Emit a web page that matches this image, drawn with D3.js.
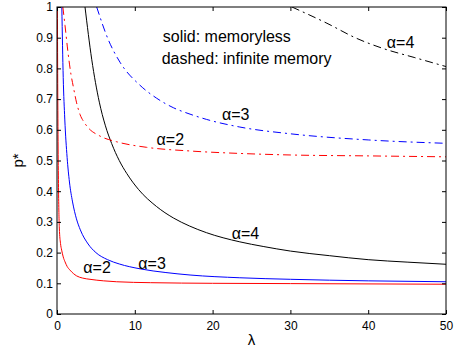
<!DOCTYPE html>
<html>
<head>
<meta charset="utf-8">
<script src="https://cdn.jsdelivr.net/npm/d3@7"></script>
<style>
  body { margin: 0; background: #fff; }
  text { font-family: "Liberation Sans", Arial, sans-serif; }
</style>
</head>
<body>
<div id="container"></div>
<script>
// [lambda, p*]
var solid2 = [[0.05,1.0],[0.1,0.72],[0.15,0.52],[0.2,0.4],[0.3,0.28],[0.45,0.23],[0.6,0.208],[0.8,0.186],[1.03,0.17],[1.3,0.155],[1.67,0.143],[2.1,0.132],[2.53,0.124],[3.3,0.117],[4.24,0.113],[6,0.108],[7.67,0.105],[12,0.102],[20,0.1],[30,0.099],[50,0.097]];
var solid3 = [[0.62,1.0],[0.8,0.77],[1.0,0.635],[1.3,0.51],[1.6,0.43],[2.0,0.365],[2.5,0.31],[3.0,0.274],[4.0,0.228],[5.0,0.2],[6.5,0.177],[8.0,0.163],[10.7,0.147],[14,0.135],[17.1,0.127],[23.5,0.118],[30,0.113],[40,0.108],[50,0.105]];
var solid4 = [[3.6,1.0],[4.46,0.83],[5.44,0.69],[6.2,0.615],[7.03,0.555],[8.0,0.5],[8.96,0.458],[10.5,0.405],[12.8,0.35],[14.95,0.313],[17,0.287],[19.2,0.265],[23.5,0.235],[26.5,0.22],[30,0.205],[35,0.19],[40,0.177],[45,0.169],[50,0.162]];
var dashed2 = [[0.75,1.0],[1.03,0.94],[1.4,0.855],[1.8,0.78],[2.1,0.74],[2.5,0.69],[2.96,0.65],[3.5,0.624],[4.0,0.607],[5.5,0.58],[7.67,0.561],[11.5,0.543],[17.1,0.531],[23.5,0.523],[30,0.518],[40,0.515],[50,0.512]];
var dashed3 = [[5.1,1.0],[6.6,0.893],[8.1,0.82],[10.67,0.745],[12.8,0.703],[14.95,0.672],[17.1,0.651],[19.2,0.634],[23.5,0.609],[30,0.587],[40,0.567],[50,0.556]];
var dashed4 = [[30.2,1.0],[34.7,0.947],[38.5,0.898],[41.9,0.865],[46,0.835],[50,0.806]];

var xTicks = [0, 10, 20, 30, 40, 50];
var yTicks = [0, 0.1, 0.2, 0.3, 0.4, 0.5, 0.6, 0.7, 0.8, 0.9, 1];

var width = 455,
    height = 350,
    margin = {top: 7, right: 9, bottom: 36, left: 57};
var w = width - margin.left - margin.right,
    h = height - margin.top - margin.bottom;

var svg = d3.select("#container")
  .append("svg")
  .attr("width", width)
  .attr("height", height);

var g = svg.append("g")
  .attr("transform", "translate(" + margin.left + "," + margin.top + ")");

var x = d3.scaleLinear().domain([0, 50]).range([0, w]);
var y = d3.scaleLinear().domain([0, 1]).range([h, 0]);

g.append("clipPath").attr("id", "clip")
  .append("rect").attr("width", w).attr("height", h);

var line = d3.line()
  .x(function(d) { return x(d[0]); })
  .y(function(d) { return y(d[1]); })
  .curve(d3.curveMonotoneX);

var series = [
  {data: solid2, color: "#ff0000", dash: null},
  {data: solid3, color: "#0000ff", dash: null},
  {data: solid4, color: "#000000", dash: null},
  {data: dashed2, color: "#ff0000", dash: "8,4,2,4"},
  {data: dashed3, color: "#0000ff", dash: "8,4,2,4"},
  {data: dashed4, color: "#000000", dash: "8,4,2,4"}
];

g.append("g").attr("clip-path", "url(#clip)")
  .selectAll("path")
  .data(series)
  .enter()
  .append("path")
  .attr("d", function(d) { return line(d.data); })
  .attr("fill", "none")
  .attr("stroke", function(d) { return d.color; })
  .attr("stroke-width", 1)
  .attr("stroke-dasharray", function(d) { return d.dash; });

// axes, ticks pointing inward on all four sides
var fmt = d3.format("~g");
var xAxis = g.append("g").attr("transform", "translate(0," + h + ")")
  .call(d3.axisBottom(x).tickValues(xTicks).tickFormat(fmt).tickSize(-4).tickPadding(7));
var yAxis = g.append("g")
  .call(d3.axisLeft(y).tickValues(yTicks).tickFormat(fmt).tickSize(-4).tickPadding(4));
g.append("g")
  .call(d3.axisTop(x).tickValues(xTicks).tickFormat("").tickSize(-4));
g.append("g").attr("transform", "translate(" + w + ",0)")
  .call(d3.axisRight(y).tickValues(yTicks).tickFormat("").tickSize(-4));

g.selectAll(".domain").remove();
g.selectAll(".tick line").attr("stroke", "#000");
xAxis.selectAll("text").attr("font-size", 12).attr("fill", "#000").style("font-family", "Liberation Sans, Arial, sans-serif");
yAxis.selectAll("text").attr("font-size", 12).attr("fill", "#000").style("font-family", "Liberation Sans, Arial, sans-serif");

g.append("rect")
  .attr("width", w).attr("height", h)
  .attr("fill", "none").attr("stroke", "#000").attr("stroke-width", 1);

// axis titles
svg.append("text")
  .attr("x", margin.left + w / 2).attr("y", 345)
  .attr("text-anchor", "middle").attr("font-size", 15)
  .text("λ");
svg.append("text")
  .attr("transform", "translate(23," + (margin.top + h / 2) + ") rotate(-90)")
  .attr("text-anchor", "middle").attr("font-size", 15)
  .text("p*");

// annotations, placed in data coordinates
var notes = [
  {text: "α=2", lam: 3.38, p: 0.133},
  {text: "α=3", lam: 10.45, p: 0.147},
  {text: "α=4", lam: 22.45, p: 0.243},
  {text: "α=2", lam: 12.8, p: 0.55},
  {text: "α=3", lam: 21.2, p: 0.632},
  {text: "α=4", lam: 42.4, p: 0.867},
  {text: "solid: memoryless", lam: 13.6, p: 0.887},
  {text: "dashed: infinite memory", lam: 13.45, p: 0.814}
];
g.selectAll("text.note")
  .data(notes)
  .enter()
  .append("text")
  .attr("class", "note")
  .attr("x", function(d) { return x(d.lam); })
  .attr("y", function(d) { return y(d.p); })
  .attr("font-size", 16)
  .attr("fill", "#000")
  .text(function(d) { return d.text; });
</script>
</body>
</html>
